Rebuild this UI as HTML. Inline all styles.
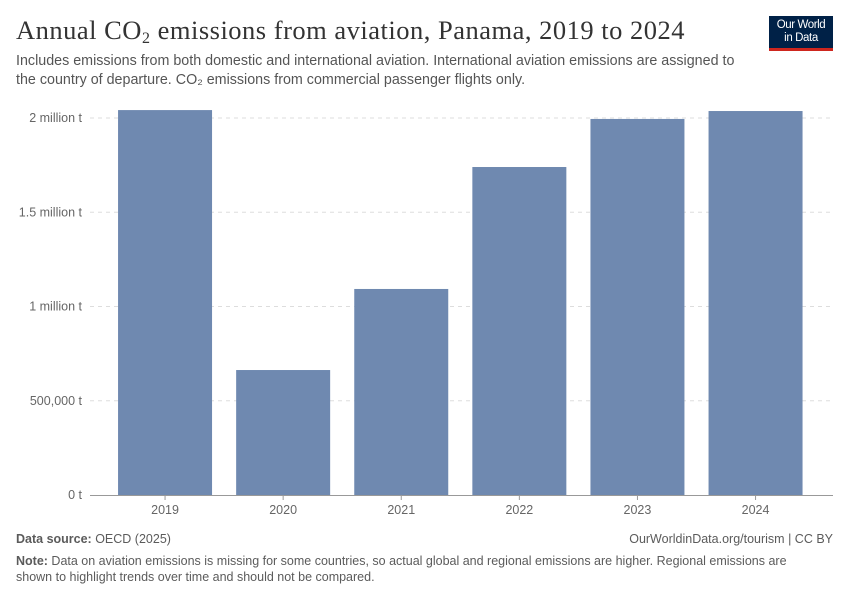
<!DOCTYPE html>
<html><head><meta charset="utf-8"><style>
body{margin:0;width:850px;height:600px;background:#fff;font-family:"Liberation Sans",sans-serif;position:relative;overflow:hidden}
.abs{position:absolute}
</style></head><body>
<div class="abs" style="left:16px;top:15px;font-family:'Liberation Serif',serif;font-size:26.5px;color:#333;white-space:nowrap;letter-spacing:0.5px">Annual CO<sub style="font-size:16px;vertical-align:-4px">2</sub> emissions from aviation, Panama, 2019 to 2024</div>
<div class="abs" style="left:16px;top:52px;font-size:14.3px;color:#555;line-height:19px;width:735px">Includes emissions from both domestic and international aviation. International aviation emissions are assigned to the country of departure. CO₂ emissions from commercial passenger flights only.</div>
<div class="abs" style="left:769px;top:16px;width:64px;height:35px;background:#002147;border-bottom:3px solid #ce261e;box-sizing:border-box;color:#fff;font-size:11.5px;line-height:13px;text-align:center;padding-top:3px;letter-spacing:-0.4px">Our World<br>in Data</div>
<svg class="abs" style="left:0;top:0" width="850" height="600" id="chart"></svg>
<div class="abs" style="left:16px;top:532px;font-size:12.5px;color:#5b5b5b"><b>Data source:</b> OECD (2025)</div>
<div class="abs" style="right:17px;top:532px;font-size:12.5px;color:#5b5b5b">OurWorldinData.org/tourism | CC BY</div>
<div class="abs" style="left:16px;top:553px;font-size:12.5px;color:#5b5b5b;line-height:16px;width:800px"><b>Note:</b> Data on aviation emissions is missing for some countries, so actual global and regional emissions are higher. Regional emissions are shown to highlight trends over time and should not be compared.</div>
<script>
const categories=["2019","2020","2021","2022","2023","2024"];
const values=[2042000,663000,1093000,1740000,1995000,2037000];
const tickValues=[0,500000,1000000,1500000,2000000];
const tickLabels=["0 t","500,000 t","1 million t","1.5 million t","2 million t"];
const svg=document.getElementById('chart');
const NS="http://www.w3.org/2000/svg";
const y0=495,yTop=118,x0=90,x1=833;
const y=v=>y0-(v/2000000)*(y0-yTop);
const bandStart=106,band=118.1,barW=94;
const xc=i=>bandStart+band*(i+0.5);
function mk(t,a){const e=document.createElementNS(NS,t);for(const k in a)e.setAttribute(k,a[k]);svg.appendChild(e);return e;}
tickValues.forEach((v,i)=>{
 if(v>0){const g=mk('line',{x1:x0,x2:x1,y1:y(v),y2:y(v),stroke:'#ddd','stroke-dasharray':'4,4'});
 
 }
 const t=mk('text',{x:82,y:y(v)+4,'text-anchor':'end','font-size':'12.5','fill':'#666','font-family':'Liberation Sans, sans-serif'});
 t.textContent=tickLabels[i];
 
 
});
values.forEach((v,i)=>{
 const r=mk('rect',{x:xc(i)-barW/2,y:y(v),width:barW,height:y0-y(v),fill:'#6f89b0'});
 
 
 const tk=mk('line',{x1:xc(i),x2:xc(i),y1:y0,y2:y0+5,stroke:'#999'});
 
 
 const t=mk('text',{x:xc(i),y:514,'text-anchor':'middle','font-size':'12.5','fill':'#666','font-family':'Liberation Sans, sans-serif'});
 t.textContent=categories[i];
 
 
});
const ax=mk('line',{x1:x0,x2:x1,y1:y0+0.5,y2:y0+0.5,stroke:'#999'});


</script>
</body></html>
